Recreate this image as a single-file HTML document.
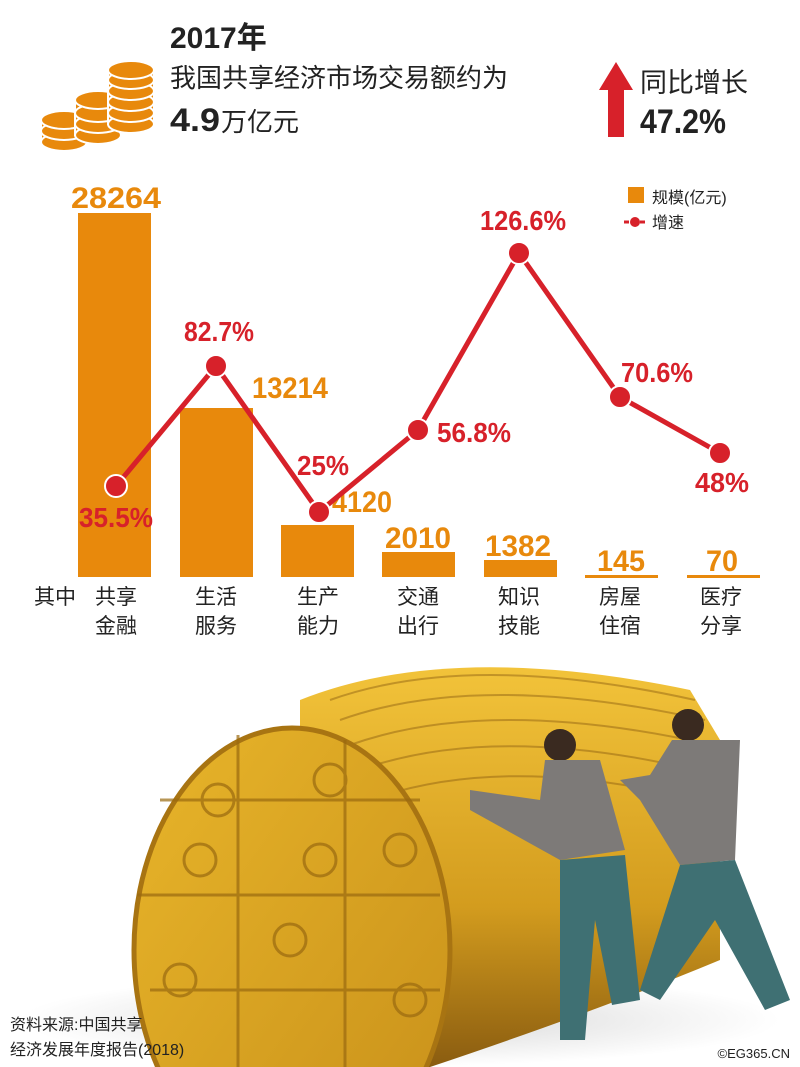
<!DOCTYPE html>
<html><head><meta charset="utf-8"><style>
html,body{margin:0;padding:0;background:#fff;width:800px;height:1067px;overflow:hidden}
svg{display:block;overflow:hidden}
.n{font-family:"Liberation Sans Narrow","Liberation Sans",sans-serif;font-weight:bold}
.c{font-family:"Liberation Sans","Noto Sans CJK SC",sans-serif}
</style></head><body>
<svg width="800" height="1067" viewBox="0 0 800 1067" xmlns="http://www.w3.org/2000/svg">
<defs>
<linearGradient id="face" x1="0" y1="0" x2="1" y2="1"><stop offset="0" stop-color="#e8b52a"/><stop offset="1" stop-color="#c8901a"/></linearGradient>
<linearGradient id="body" x1="0" y1="0" x2="0" y2="1"><stop offset="0" stop-color="#f2c33a"/><stop offset="0.6" stop-color="#d39c1e"/><stop offset="1" stop-color="#8a5c10"/></linearGradient>
<radialGradient id="shadow" cx="0.5" cy="0.5" r="0.5"><stop offset="0" stop-color="#bbb"/><stop offset="1" stop-color="#fff"/></radialGradient>
</defs>
<!-- header coins -->
<g fill="#e8890c" stroke="#fff" stroke-width="2">
<g><rect x="41" y="122" width="46" height="20"/><ellipse cx="64" cy="142" rx="23" ry="9"/><ellipse cx="64" cy="131" rx="23" ry="9"/><ellipse cx="64" cy="120" rx="23" ry="9"/></g>
<g><rect x="75" y="100" width="46" height="35"/><ellipse cx="98" cy="135" rx="23" ry="9"/><ellipse cx="98" cy="124" rx="23" ry="9"/><ellipse cx="98" cy="113" rx="23" ry="9"/><ellipse cx="98" cy="100" rx="23" ry="9"/></g>
<g><rect x="108" y="72" width="46" height="52"/><ellipse cx="131" cy="124" rx="23" ry="9"/><ellipse cx="131" cy="113" rx="23" ry="9"/><ellipse cx="131" cy="102" rx="23" ry="9"/><ellipse cx="131" cy="91" rx="23" ry="9"/><ellipse cx="131" cy="80" rx="23" ry="9"/><ellipse cx="131" cy="70" rx="23" ry="9"/></g>
</g>
<text x="170" y="48" class="c" font-size="30" font-weight="bold" fill="#222">2017年</text>
<text x="170" y="87" class="c" font-size="26" fill="#222">我国共享经济市场交易额约为</text>
<text x="170" y="131" class="n" font-size="32" fill="#222" textLength="50" lengthAdjust="spacingAndGlyphs">4.9</text>
<text x="221" y="131" class="c" font-size="26" fill="#222">万亿元</text>
<polygon points="616,62 633,90 624,90 624,137 608,137 608,90 599,90" fill="#d7212a"/>
<text x="640" y="92" class="c" font-size="27" fill="#222">同比增长</text>
<text x="640" y="133" class="n" font-size="34" fill="#222" textLength="86" lengthAdjust="spacingAndGlyphs">47.2%</text>
<!-- legend -->
<rect x="628" y="187" width="16" height="16" fill="#e8890c"/>
<text x="652" y="203" class="c" font-size="16" fill="#222">规模(亿元)</text>
<line x1="624" y1="222" x2="646" y2="222" stroke="#d7212a" stroke-width="3" stroke-dasharray="5,3"/>
<circle cx="635" cy="222" r="5" fill="#d7212a"/>
<text x="652" y="228" class="c" font-size="16" fill="#222">增速</text>
<!-- bars -->
<g fill="#e8890c">
<rect x="78" y="213" width="73" height="364"/>
<rect x="180" y="408" width="73" height="169"/>
<rect x="281" y="525" width="73" height="52"/>
<rect x="382" y="552" width="73" height="25"/>
<rect x="484" y="560" width="73" height="17"/>
<rect x="585" y="575" width="73" height="3"/>
<rect x="687" y="575" width="73" height="3"/>
</g>
<g class="n" fill="#e8890c" font-size="30" text-anchor="middle">
<text x="116" y="208" textLength="90" lengthAdjust="spacingAndGlyphs">28264</text>
<text x="290" y="398" textLength="76" lengthAdjust="spacingAndGlyphs">13214</text>
<text x="362" y="512" textLength="60" lengthAdjust="spacingAndGlyphs">4120</text>
<text x="418" y="548" textLength="66" lengthAdjust="spacingAndGlyphs">2010</text>
<text x="518" y="556" textLength="66" lengthAdjust="spacingAndGlyphs">1382</text>
<text x="621" y="571" textLength="48" lengthAdjust="spacingAndGlyphs">145</text>
<text x="722" y="571" textLength="32" lengthAdjust="spacingAndGlyphs">70</text>
</g>
<!-- line -->
<polyline points="116,486 216,366 319,512 418,430 519,253 620,397 720,453" fill="none" stroke="#d7212a" stroke-width="5"/>
<g fill="#d7212a" stroke="#fff" stroke-width="2">
<circle cx="116" cy="486" r="11"/><circle cx="216" cy="366" r="11"/><circle cx="319" cy="512" r="11"/><circle cx="418" cy="430" r="11"/><circle cx="519" cy="253" r="11"/><circle cx="620" cy="397" r="11"/><circle cx="720" cy="453" r="11"/>
</g>
<g class="n" fill="#d7212a" font-size="28" text-anchor="middle">
<text x="116" y="527" textLength="74" lengthAdjust="spacingAndGlyphs">35.5%</text>
<text x="219" y="341" textLength="70" lengthAdjust="spacingAndGlyphs">82.7%</text>
<text x="323" y="475" textLength="52" lengthAdjust="spacingAndGlyphs">25%</text>
<text x="474" y="442" textLength="74" lengthAdjust="spacingAndGlyphs">56.8%</text>
<text x="523" y="230" textLength="86" lengthAdjust="spacingAndGlyphs">126.6%</text>
<text x="657" y="382" textLength="72" lengthAdjust="spacingAndGlyphs">70.6%</text>
<text x="722" y="492" textLength="54" lengthAdjust="spacingAndGlyphs">48%</text>
</g>
<g class="c" font-size="21" fill="#222" text-anchor="middle">
<text x="55" y="604">其中</text>
<text x="116" y="604">共享</text><text x="116" y="633">金融</text>
<text x="216" y="604">生活</text><text x="216" y="633">服务</text>
<text x="318" y="604">生产</text><text x="318" y="633">能力</text>
<text x="418" y="604">交通</text><text x="418" y="633">出行</text>
<text x="519" y="604">知识</text><text x="519" y="633">技能</text>
<text x="620" y="604">房屋</text><text x="620" y="633">住宿</text>
<text x="721" y="604">医疗</text><text x="721" y="633">分享</text>
</g>
<!-- illustration -->
<ellipse cx="400" cy="1020" rx="380" ry="46" fill="url(#shadow)" opacity="0.6"/>
<path d="M300,700 Q450,640 690,690 L720,740 L720,960 Q600,1010 430,1067 L300,1067 Z" fill="url(#body)"/>
<g stroke="#8a5c10" stroke-width="2" opacity="0.45">
<path d="M330,700 Q470,650 695,700" fill="none"/><path d="M340,720 Q480,670 705,720" fill="none"/><path d="M350,745 Q490,695 712,745" fill="none"/><path d="M360,770 Q500,720 716,775" fill="none"/><path d="M370,800 Q510,750 718,805" fill="none"/>
</g>
<ellipse cx="292" cy="950" rx="158" ry="222" fill="url(#face)"/>
<ellipse cx="292" cy="950" rx="158" ry="222" fill="none" stroke="#a87412" stroke-width="5"/>
<g stroke="#9a6a10" stroke-width="3" fill="none" opacity="0.7">
<line x1="238" y1="735" x2="238" y2="1067"/><line x1="345" y1="740" x2="345" y2="1067"/>
<line x1="137" y1="895" x2="440" y2="895"/><line x1="160" y1="800" x2="420" y2="800"/><line x1="150" y1="990" x2="440" y2="990"/>
<circle cx="218" cy="800" r="16"/><circle cx="330" cy="780" r="16"/><circle cx="200" cy="860" r="16"/><circle cx="320" cy="860" r="16"/><circle cx="400" cy="850" r="16"/><circle cx="290" cy="940" r="16"/><circle cx="410" cy="1000" r="16"/><circle cx="180" cy="980" r="16"/>
</g>
<!-- men -->
<g>
<circle cx="560" cy="745" r="16" fill="#3a2a20"/>
<path d="M545,760 L600,760 L625,850 L560,860 L470,810 L470,790 L540,800 Z" fill="#7d7a78"/>
<path d="M560,860 L625,855 L640,1000 L612,1005 L595,920 L585,1040 L560,1040 Z" fill="#3f7073"/>
<circle cx="688" cy="725" r="16" fill="#3a2a20"/>
<path d="M672,740 L740,740 L735,860 L680,865 L640,800 L620,780 L650,775 Z" fill="#7d7a78"/>
<path d="M680,865 L735,860 L790,1000 L765,1010 L715,920 L660,1000 L640,990 Z" fill="#3f7073"/>
</g>
<text x="10" y="1030" class="c" font-size="16" fill="#222">资料来源:中国共享</text>
<text x="10" y="1055" class="c" font-size="16" fill="#222">经济发展年度报告(2018)</text>
<text x="790" y="1058" class="c" font-size="13" fill="#222" text-anchor="end">©EG365.CN</text>
</svg>
</body></html>
